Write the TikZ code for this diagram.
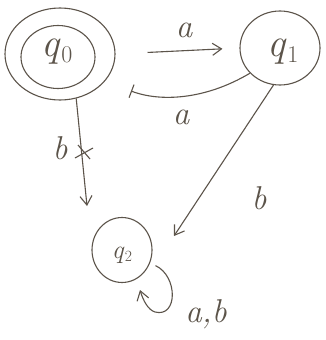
\documentclass[tikz,border=0pt]{standalone}
\usepackage{fontspec}
\usetikzlibrary{shapes.geometric,arrows.meta}
\definecolor{pencil}{RGB}{92,84,74}
\newcommand{\stname}[1]{\textit{q}\kern0.5pt\raisebox{-0.3ex}{\scalebox{0.6}{#1}}}
\begin{document}
\begin{tikzpicture}[x=1pt,y=-1pt,
  every path/.style={draw=pencil,line width=1.1pt},
  ink/.style={text=pencil,draw=none},
  state/.style={ellipse,draw=pencil,line width=1.1pt,inner sep=0pt},
  edgelbl/.style={ink,font=\fontsize{33}{35}\selectfont\itshape},
  arr/.style={-{Straight Barb[length=9pt,width=12pt]}},
]
\useasboundingbox[fill=white,draw=none] (0,0) rectangle (325,340);
% states
\node[state,minimum width=110pt,minimum height=92pt] (q0o) at (60,54) {};
\node[state,minimum width=74pt,minimum height=63pt] (q0) at (58,57) {};
\node[ink,font=\fontsize{40}{42}\selectfont] (q0t) at (57,52) {\stname{0}};
\node[state,minimum width=80pt,minimum height=74pt] (q1) at (280,48) {};
\node[ink,font=\fontsize{40}{42}\selectfont] (q1t) at (283,52) {\stname{1}};
\node[state,minimum width=60pt,minimum height=65pt] (q2) at (122,250) {};
\node[ink,font=\fontsize{26}{28}\selectfont] (q2t) at (122,255) {\stname{2}};
% free ends
\coordinate (ret) at (131,91);
\coordinate (bend) at (87,206);
\coordinate (cend) at (174,236);
\coordinate (lend) at (140,290);
% edges
\draw[arr,shorten <=32pt,shorten >=17pt] (q0o.east) -- (q1.west);
\draw[-{Bar[width=14pt]}] (q1.220) .. controls (205,100) and (160,102) .. (ret);
\draw[arr] (q0o.-70) -- (bend);
\draw (78,145) -- (90,159) (75,158) -- (93,148);
\draw[arr] (q1.-100) -- (cend);
\draw[arr,shorten <=6pt] (q2.-25) .. controls (178,276) and (178,318) .. (155,312) .. controls (148,310) and (143,300) .. (lend);
% labels
\node[edgelbl] (la1) at (184,30) {a};
\node[edgelbl] (la2) at (181,117) {a};
\node[edgelbl] (lb1) at (60,148) {b};
\node[edgelbl] (lb2) at (259,198) {b};
\node[edgelbl] (lab) at (206,314) {a,b};
\end{tikzpicture}
\end{document}
